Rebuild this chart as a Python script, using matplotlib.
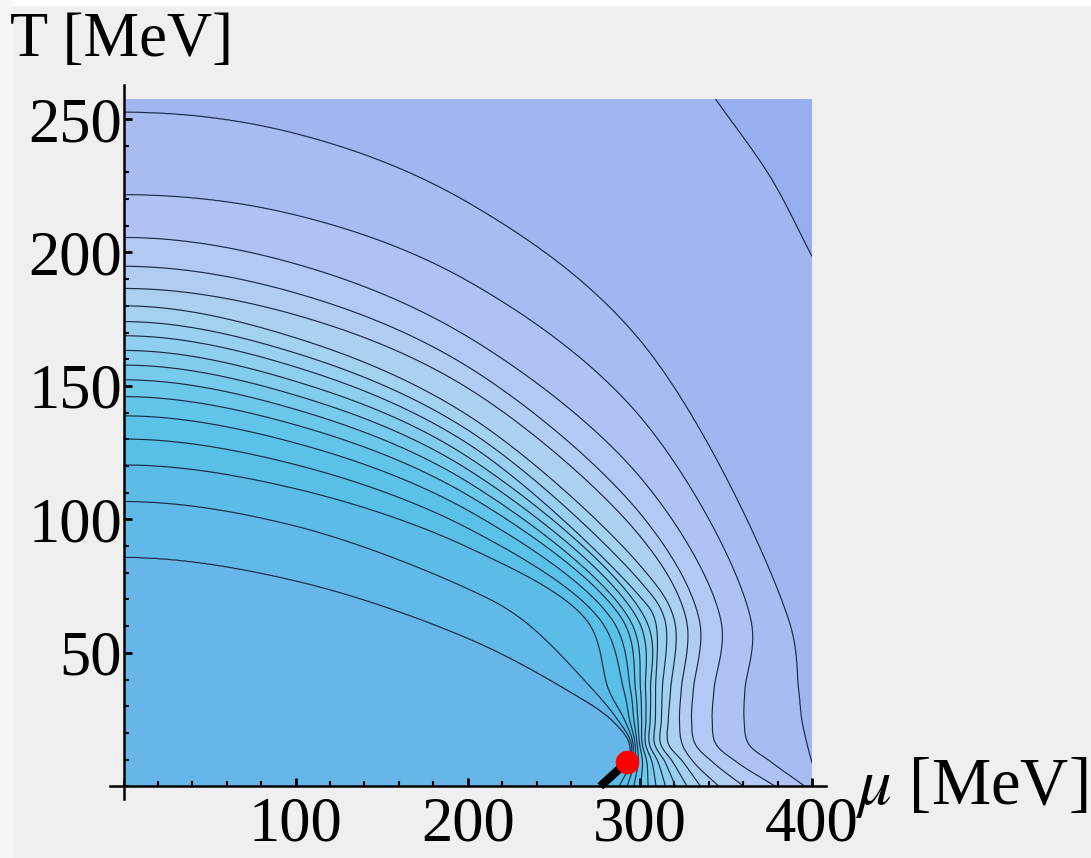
import numpy as np
import matplotlib.pyplot as plt
from matplotlib.patches import Rectangle
from matplotlib.ticker import MultipleLocator, FixedLocator

plt.rcParams['font.family'] = ['Liberation Serif', 'DejaVu Serif']
plt.rcParams['mathtext.fontset'] = 'stix'

nan = np.nan

# crossings of each contour line (inner -> outer) with fixed mu or fixed T
t_at_mu0 = [85.8, 106.7, 120.4, 130.1, 138.8, 146.0, 152.3, 157.8, 163.3, 168.8,
            174.1, 180.0, 186.5, 194.8, 205.6, 221.6, 252.5, nan]
t_at_mu100 = [77.0, 97.5, 111.5, 120.5, 128.6, 135.4, 141.2, 146.5, 151.7, 157.1,
              162.3, 168.0, 176.6, 184.8, 195.7, 214.0, 244.5, nan]
t_at_mu200 = [55.5, 74.0, 89.6, 96.7, 103.4, 109.1, 114.0, 118.7, 123.4, 128.4,
              133.5, 139.0, 149.2, 157.2, 168.4, 189.3, 218.7, nan]
t_at_mu300 = [nan] * 9 + [71.1, 76.9, 82.8, 93.8, 102.3, 115.9, 138.6, 167.1, nan]
t_at_mu400 = [nan] * 16 + [8.6, 198.5]

mu_at_t257 = [nan] * 17 + [343.9]
mu_at_t228 = [nan] * 17 + [376.0]
mu_at_t62 = [nan, 232.0, 269.0, 277.0, 284.0, 290.0, 294.2, 299.0, 303.5, 308.8,
             314.5, 320.0, 327.0, 334.5, 347.0, 364.5, 386.4, nan]
mu_at_t36 = [258.0, 273.0, 282.0, 290.7, 294.6, 297.5, 300.4, 303.3, 306.2, 309.1,
             313.0, 317.8, 324.0, 331.0, 343.0, 361.0, 392.2, nan]
mu_at_t25 = [283.5, 287.0, 291.0, 294.0, 296.5, 298.8, 301.0, 303.5, 306.0, 309.0,
             312.5, 316.5, 323.0, 330.0, 342.0, 360.5, 394.0, nan]
mu_at_t16 = [294.0, 295.0, 296.0, 297.2, 298.4, 299.8, 301.3, 303.2, 305.5, 308.5,
             312.0, 316.5, 324.5, 332.0, 344.0, 363.0, 397.0, nan]
mu_at_t9 = [292.9, 293.4, 295.0, 297.0, 299.0, 301.5, 304.0, 307.0, 310.5, 314.5,
            319.0, 325.0, 331.0, 342.0, 356.0, 376.0, nan, nan]
mu_at_t0 = [278.0, 279.5, 288.0, 292.6, 296.5, 300.4, 304.8, 309.4, 314.9, 320.7,
            327.4, 335.2, 345.8, 360.3, 378.7, 396.0, nan, nan]

# critical point and first-order line
cp_mu, cp_t = 292.6, 9.2
first_order_mu = [277.0, cp_mu]
first_order_t = [0.0, cp_t]

mu_ticks = [100, 200, 300, 400]
t_ticks = [50, 100, 150, 200, 250]

fixed_mu = {0: t_at_mu0, 100: t_at_mu100, 200: t_at_mu200, 300: t_at_mu300,
            400: t_at_mu400}
fixed_t = {257.5: mu_at_t257, 228: mu_at_t228, 62.3: mu_at_t62, 36: mu_at_t36,
           25: mu_at_t25, 16: mu_at_t16, 9.2: mu_at_t9, 0: mu_at_t0}

n_lines = len(t_at_mu0)
stretch = 1.6  # mu scale so the outer lines are close to circles


def cr_segment(p0, p1, p2, p3, n=60):
    # centripetal Catmull-Rom between p1 and p2
    def step(ti, a, b):
        return ti + max(np.hypot(*(b - a)), 1e-9) ** 0.5
    t0 = 0.0
    t1 = step(t0, p0, p1)
    t2 = step(t1, p1, p2)
    t3 = step(t2, p2, p3)
    t = np.linspace(t1, t2, n)[:, None]
    a1 = (t1 - t) / (t1 - t0) * p0 + (t - t0) / (t1 - t0) * p1
    a2 = (t2 - t) / (t2 - t1) * p1 + (t - t1) / (t2 - t1) * p2
    a3 = (t3 - t) / (t3 - t2) * p2 + (t - t2) / (t3 - t2) * p3
    b1 = (t2 - t) / (t2 - t0) * a1 + (t - t0) / (t2 - t0) * a2
    b2 = (t3 - t) / (t3 - t1) * a2 + (t - t1) / (t3 - t1) * a3
    return (t2 - t) / (t2 - t1) * b1 + (t - t1) / (t2 - t1) * b2


def line_points(k):
    pts = []
    for m, vals in fixed_mu.items():
        if not np.isnan(vals[k]):
            pts.append((m / stretch, vals[k]))
    for t, vals in fixed_t.items():
        if not np.isnan(vals[k]):
            pts.append((vals[k] / stretch, t))
    pts = np.array(pts)
    ang = np.arctan2(pts[:, 1], pts[:, 0])
    return pts[np.argsort(-ang)]


def smooth_line(P):
    # mirror at mu = 0 (symmetric in mu), straight extension elsewhere
    if P[0, 0] == 0:
        first = np.array([-P[1, 0], P[1, 1]])
    else:
        first = 2 * P[0] - P[1]
    last = 2 * P[-1] - P[-2]
    Q = np.vstack([first, P, last])
    segs = [cr_segment(Q[i - 1], Q[i], Q[i + 1], Q[i + 2])
            for i in range(1, len(Q) - 2)]
    return np.vstack(segs)


mu = np.linspace(0, 400, 1200)
tt = np.linspace(0, 257.5, 800)
MU, TT = np.meshgrid(mu, tt)
u_g, v_g = MU / stretch, TT
r_grid = np.hypot(u_g, v_g)
s_grid = np.where(r_grid > 0, u_g ** 2 / np.maximum(r_grid, 1e-12) ** 2, 0.5)

# radius of each contour line along the direction of every grid point
R = np.zeros((n_lines,) + MU.shape)
for k in range(n_lines):
    C = smooth_line(line_points(k))
    r2 = (C ** 2).sum(axis=1)
    s = C[:, 0] ** 2 / r2
    order = np.argsort(s)
    q = np.interp(s_grid, s[order], 1.0 / r2[order])
    R[k] = 1.0 / np.sqrt(q)

R = np.maximum.accumulate(R, axis=0)
for k in range(1, n_lines):
    R[k] = np.maximum(R[k], R[k - 1] + 1e-6)

# piecewise linear level index: 0 at origin, k on line k
field = np.clip(r_grid / R[0], 0, 1)
for k in range(1, n_lines):
    field += np.clip((r_grid - R[k - 1]) / (R[k] - R[k - 1]), 0, 1)
field += np.clip((r_grid - R[-1]) / (0.5 * R[-1]), 0, 1)

band_colors = ['#66b6ea', '#60b9e8', '#5bbce7', '#58bfe6', '#5ac2e6', '#60c5e8',
               '#6ac8e9', '#76cbea', '#82cdec', '#8ecfed', '#99d0ef', '#a3d1f0',
               '#acd0f2', '#b2cdf3', '#b3c8f3', '#afc2f3', '#a9bcf2', '#a1b6f1',
               '#97aef0']

fig = plt.figure(figsize=(10.91, 8.58), dpi=100, facecolor='#efefef')
# pale frame along the top and left edge
fig.patches.append(Rectangle((0, 1 - 5 / 858), 1, 5 / 858, transform=fig.transFigure,
                             color='white', zorder=0))
fig.patches.append(Rectangle((0, 0), 12 / 1091, 1, transform=fig.transFigure,
                             color='#f6f6f6', zorder=0))

ax = fig.add_axes([123.5 / 1091, 71.7 / 858, 688.5 / 1091, 687.3 / 858])

levels = np.arange(0, n_lines + 2)
ax.contourf(MU, TT, field, levels=levels, colors=band_colors)
ax.contour(MU, TT, field, levels=np.arange(1, n_lines + 1), colors='#1c2c48',
           linewidths=0.85)

ax.plot(first_order_mu, first_order_t, color='black', lw=6, solid_capstyle='butt',
        zorder=5, clip_on=False)
ax.plot(cp_mu, cp_t, 'o', color='red', ms=17, mec='none', zorder=6)

ax.set_xlim(0, 400)
ax.set_ylim(0, 257.5)
for sp in ax.spines.values():
    sp.set_visible(False)

# axis lines that run a little past the plot range
ax.plot([-0.02, 1.02], [0, 0], transform=ax.transAxes, color='black', lw=1.8,
        clip_on=False, zorder=7)
ax.plot([0, 0], [-0.018, 1.02], transform=ax.transAxes, color='black', lw=1.8,
        clip_on=False, zorder=7)

ax.xaxis.set_major_locator(FixedLocator(mu_ticks))
ax.yaxis.set_major_locator(FixedLocator(t_ticks))
ax.xaxis.set_minor_locator(MultipleLocator(20))
ax.yaxis.set_minor_locator(MultipleLocator(10))
ax.set_xticklabels([str(v) for v in mu_ticks])
ax.set_yticklabels([str(v) for v in t_ticks])
ax.tick_params(which='both', direction='in', color='black', labelsize=45, zorder=8)
ax.tick_params(which='major', length=6, width=2)
ax.tick_params(which='minor', length=3.5, width=1.5)
ax.tick_params(axis='x', pad=7)
ax.tick_params(axis='y', pad=1)

fig.text(10 / 1091, 1 - 12 / 858, 'T [MeV]', fontsize=45, va='top', ha='left')
fig.text(855 / 1091, 1 - 787 / 858, r'$\mu$ [MeV]', fontsize=48, va='center',
         ha='left')

fig.savefig('out.png', dpi=100, facecolor=fig.get_facecolor())
